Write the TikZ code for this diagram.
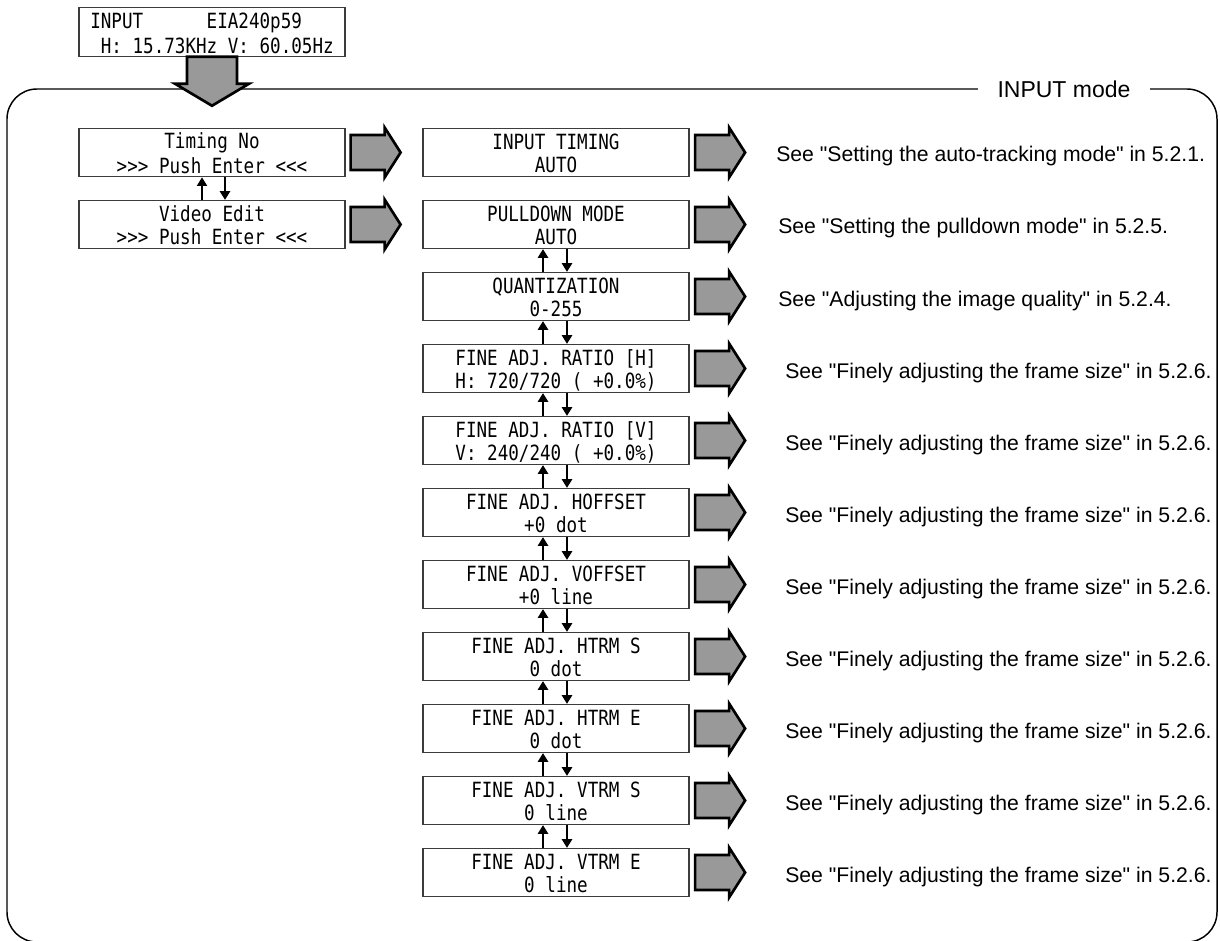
\documentclass[tikz,border=0pt]{standalone}
\usepackage{fontspec}
\setmainfont[Ligatures=TeXOff]{Liberation Sans}
\newfontfamily\lcdfont[FakeStretch=0.84]{DejaVu Sans Mono}
\usetikzlibrary{arrows.meta}

\definecolor{osd@line}{RGB}{60,60,60}
\definecolor{osd@fill}{RGB}{153,153,153}

% two LCD rows with a fixed pitch, so every panel sets its text alike
\newcommand{\lcdrows}[3][c]{%
  {\renewcommand{\arraystretch}{0}%
   \begin{tabular}{@{}#1@{}}
     \rule[-2.25pt]{0pt}{17.6pt}#2\\
     \rule[-2.25pt]{0pt}{17.6pt}#3
   \end{tabular}}}
\def\px{0.75pt}

\tikzset{
  lcdbox/.style={draw=osd@line, line width=0.9pt, fill=white, inner sep=0pt,
    minimum width=199.5pt, minimum height=36pt,
    font=\lcdfont\fontsize{15.7pt}{17.6pt}\selectfont},
  seetext/.style={anchor=base west, inner sep=0pt,
    font=\fontsize{15.9pt}{19pt}\selectfont},
  stepflow/.style={line width=1.9pt, -{Triangle[width=7.5pt,length=6.5pt]}},
  pics/blockright/.style={code={
    \filldraw[fill=osd@fill, draw=black, line width=2pt, line join=miter]
      (0,-17.5) -- (34,-17.5) -- (34,-25) -- (50,0) -- (34,25) --
      (34,17.5) -- (0,17.5) -- cycle;}},
  pics/blockdown/.style={code={
    \filldraw[fill=osd@fill, draw=black, line width=2pt, line join=miter]
      (-25,0) -- (-25,27) -- (-37,27) -- (0,49) -- (37,27) --
      (25,27) -- (25,0) -- cycle;}}
}

\begin{document}
\begin{tikzpicture}[x=0.75pt, y=-0.75pt]
  % pixel grid of the reference, y running down
  \useasboundingbox (0,0) rectangle (1220,941);

  % ---- OUTER FRAME with its caption cut into the top edge ----
  \draw[line width=1.1pt, rounded corners=22.5pt] (7,89) rectangle (1217,942);
  \node[fill=white, inner xsep=14.6pt, inner ysep=2pt,
        font=\fontsize{17.25pt}{20pt}\selectfont] (modelabel) at (1064,89) {INPUT mode};

  % ---- STATUS PANEL ----
  \node[lcdbox] (status) at (212,32)
    {\lcdrows[l]{INPUT\ \ \ \ \ \ EIA240p59}{\ H: 15.73KHz V: 60.05Hz}};
  \pic at (status.south) {blockdown};

  % ---- LEFT COLUMN ----
  \node[lcdbox] (timing) at (212,152.5) {\lcdrows{Timing No}{>>> Push Enter <<<}};
  \node[lcdbox] (video)  at (212,224.5) {\lcdrows{Video Edit}{>>> Push Enter <<<}};
  \draw[stepflow] ([xshift=-10*\px]video.north) -- ([xshift=-10*\px]timing.south);
  \draw[stepflow] ([xshift=13*\px]timing.south) -- ([xshift=13*\px]video.north);
  \pic at ([xshift=5*\px]timing.east) {blockright};
  \pic at ([xshift=5*\px]video.east) {blockright};

  % ---- MIDDLE COLUMN, one row per setting ----
  \foreach \i/\ttl/\val/\sx/\see in {
      0/{INPUT TIMING}/{AUTO}/776/{See "Setting the auto-tracking mode" in 5.2.1.},
      1/{PULLDOWN MODE}/{AUTO}/778/{See "Setting the pulldown mode" in 5.2.5.},
      2/{QUANTIZATION}/{0-255}/778/{See "Adjusting the image quality" in 5.2.4.},
      3/{FINE ADJ. RATIO [H]}/{H: 720/720 ( +0.0\%)}/785/{See "Finely adjusting the frame size" in 5.2.6.},
      4/{FINE ADJ. RATIO [V]}/{V: 240/240 ( +0.0\%)}/785/{See "Finely adjusting the frame size" in 5.2.6.},
      5/{FINE ADJ. HOFFSET}/{+0 dot}/785/{See "Finely adjusting the frame size" in 5.2.6.},
      6/{FINE ADJ. VOFFSET}/{+0 line}/785/{See "Finely adjusting the frame size" in 5.2.6.},
      7/{FINE ADJ. HTRM S}/{0 dot}/785/{See "Finely adjusting the frame size" in 5.2.6.},
      8/{FINE ADJ. HTRM E}/{0 dot}/785/{See "Finely adjusting the frame size" in 5.2.6.},
      9/{FINE ADJ. VTRM S}/{0 line}/785/{See "Finely adjusting the frame size" in 5.2.6.},
      10/{FINE ADJ. VTRM E}/{0 line}/785/{See "Finely adjusting the frame size" in 5.2.6.}%
    } {
    \pgfmathsetmacro{\cy}{152.5+72*\i}
    \node[lcdbox] (m\i) at (556,\cy) {\lcdrows{\ttl}{\val}};
    \pic at ([xshift=5.5*\px]m\i.east) {blockright};
    \node[seetext] (see\i) at (\sx,\cy+9.5) {\see};
  }

  % up/down steps between the settings (none between the first two)
  \foreach \i in {1,...,9} {
    \pgfmathtruncatemacro{\j}{\i+1}
    \draw[stepflow] ([xshift=-13*\px]m\j.north) -- ([xshift=-13*\px]m\i.south);
    \draw[stepflow] ([xshift=11*\px]m\i.south) -- ([xshift=11*\px]m\j.north);
  }
\end{tikzpicture}
\end{document}
